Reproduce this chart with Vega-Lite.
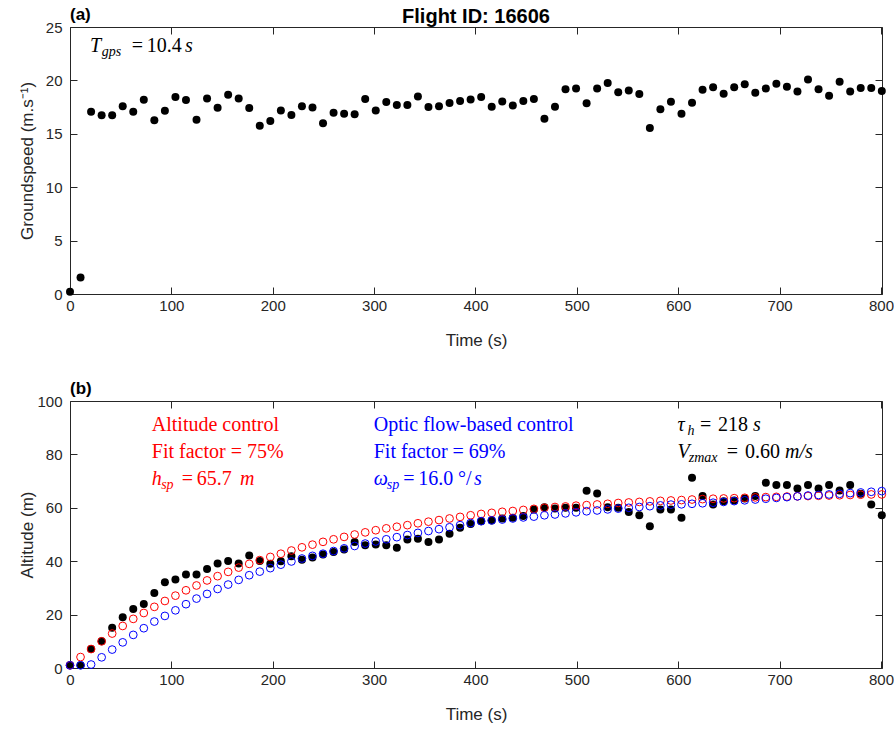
{
  "$schema": "https://vega.github.io/schema/vega-lite/v6.json",
  "padding": {"left": 17, "top": 5, "right": 0, "bottom": 5},
  "background": "#ffffff",
  "config": {
    "font": "Liberation Sans",
    "view": {"stroke": "#262626", "strokeWidth": 1},
    "axis": {
      "domain": false, "grid": false, "labelFlush": false,
      "tickColor": "#262626", "tickSize": -7, "tickWidth": 1,
      "labelColor": "#262626", "labelFontSize": 15, "labelFont": "Liberation Sans",
      "titleColor": "#262626", "titleFontSize": 17, "titleFontWeight": "normal", "titleFont": "Liberation Sans"
    },
    "axisX": {"labelPadding": 11, "titlePadding": 19},
    "axisY": {"labelPadding": 15, "titleX": -34},
    "title": {"font": "Liberation Sans", "fontWeight": "bold", "color": "#000000"}
  },
  "datasets": {
    "speed": [
      {"t":0,"v":0.2},{"t":10.4,"v":1.55},{"t":20.8,"v":17.07},{"t":31.2,"v":16.73},{"t":41.6,"v":16.73},{"t":52,"v":17.57},{"t":62.4,"v":17.07},{"t":72.8,"v":18.19},{"t":83.2,"v":16.26},{"t":93.6,"v":17.16},
      {"t":104,"v":18.44},{"t":114.4,"v":18.16},{"t":124.8,"v":16.32},{"t":135.2,"v":18.31},{"t":145.6,"v":17.44},{"t":156,"v":18.66},{"t":166.4,"v":18.31},{"t":176.8,"v":17.41},{"t":187.2,"v":15.76},{"t":197.6,"v":16.2},
      {"t":208,"v":17.19},{"t":218.4,"v":16.76},{"t":228.8,"v":17.57},{"t":239.2,"v":17.47},{"t":249.6,"v":15.98},{"t":260,"v":16.97},{"t":270.4,"v":16.88},{"t":280.8,"v":16.82},{"t":291.2,"v":18.25},{"t":301.6,"v":17.19},
      {"t":312,"v":17.97},{"t":322.4,"v":17.69},{"t":332.8,"v":17.69},{"t":343.2,"v":18.5},{"t":353.6,"v":17.5},{"t":364,"v":17.57},{"t":374.4,"v":17.88},{"t":384.8,"v":18.07},{"t":395.2,"v":18.22},{"t":405.6,"v":18.44},
      {"t":416,"v":17.54},{"t":426.4,"v":18.03},{"t":436.8,"v":17.66},{"t":447.2,"v":18.07},{"t":457.6,"v":18.25},{"t":468,"v":16.41},{"t":478.4,"v":17.54},{"t":488.8,"v":19.16},{"t":499.2,"v":19.25},{"t":509.6,"v":17.85},
      {"t":520,"v":19.25},{"t":530.4,"v":19.75},{"t":540.8,"v":18.88},{"t":551.2,"v":19.06},{"t":561.6,"v":18.72},{"t":572,"v":15.54},{"t":582.4,"v":17.29},{"t":592.8,"v":18.0},{"t":603.2,"v":16.88},{"t":613.6,"v":17.91},
      {"t":624,"v":19.12},{"t":634.4,"v":19.37},{"t":644.8,"v":18.75},{"t":655.2,"v":19.37},{"t":665.6,"v":19.65},{"t":676,"v":18.84},{"t":686.4,"v":19.25},{"t":696.8,"v":19.69},{"t":707.2,"v":19.4},{"t":717.6,"v":18.97},
      {"t":728,"v":20.09},{"t":738.4,"v":19.16},{"t":748.8,"v":18.56},{"t":759.2,"v":19.87},{"t":769.6,"v":18.97},{"t":780,"v":19.28},{"t":790.4,"v":19.28},{"t":800.8,"v":19.0}
    ],
    "alt": [
      {"t":0,"h":1.0,"ha":1.0,"ho":1.0},{"t":10.4,"h":1.0,"ha":4.1,"ho":1.0},{"t":20.8,"h":7.1,"ha":7.1,"ho":1.3},{"t":31.2,"h":10.0,"ha":10.0,"ho":4.0},{"t":41.6,"h":15.1,"ha":12.9,"ho":6.9},
      {"t":52,"h":19.0,"ha":15.75,"ho":9.6},{"t":62.4,"h":22.1,"ha":18.4,"ho":12.4},{"t":72.8,"h":24.0,"ha":20.6,"ho":14.9},{"t":83.2,"h":28.1,"ha":22.9,"ho":17.4},{"t":93.6,"h":32.1,"ha":25.1,"ho":19.5},
      {"t":104,"h":33.1,"ha":27.1,"ho":21.6},{"t":114.4,"h":35.0,"ha":29.1,"ho":23.9},{"t":124.8,"h":35.0,"ha":30.9,"ho":26.0},{"t":135.2,"h":37.1,"ha":32.8,"ho":27.75},{"t":145.6,"h":39.1,"ha":34.4,"ho":29.6},
      {"t":156,"h":40.1,"ha":36.0,"ho":31.25},{"t":166.4,"h":39.1,"ha":37.6,"ho":33.0},{"t":176.8,"h":42.1,"ha":39.0,"ho":34.75},{"t":187.2,"h":40.1,"ha":40.4,"ho":36.1},{"t":197.6,"h":39.0,"ha":41.6,"ho":37.4},
      {"t":208,"h":40.0,"ha":42.8,"ho":38.7},{"t":218.4,"h":41.9,"ha":44.0,"ho":39.9},{"t":228.8,"h":40.5,"ha":45.2,"ho":41.0},{"t":239.2,"h":41.4,"ha":46.2,"ho":42.0},{"t":249.6,"h":42.5,"ha":47.25,"ho":42.8},
      {"t":260,"h":43.4,"ha":48.2,"ho":43.8},{"t":270.4,"h":44.4,"ha":49.1,"ho":44.8},{"t":280.8,"h":47.2,"ha":50.0,"ho":45.7},{"t":291.2,"h":46.0,"ha":50.8,"ho":46.6},{"t":301.6,"h":46.25,"ha":51.6,"ho":47.4},
      {"t":312,"h":46.0,"ha":52.3,"ho":48.2},{"t":322.4,"h":45.0,"ha":52.9,"ho":49.0},{"t":332.8,"h":48.1,"ha":53.5,"ho":49.8},{"t":343.2,"h":48.4,"ha":54.2,"ho":50.6},{"t":353.6,"h":47.2,"ha":54.8,"ho":51.3},
      {"t":364,"h":48.1,"ha":55.4,"ho":52.0},{"t":374.4,"h":50.25,"ha":56.0,"ho":52.7},{"t":384.8,"h":52.5,"ha":56.6,"ho":53.5},{"t":395.2,"h":53.9,"ha":57.2,"ho":54.3},{"t":405.6,"h":55.0,"ha":57.7,"ho":55.0},
      {"t":416,"h":55.25,"ha":58.1,"ho":55.3},{"t":426.4,"h":56.0,"ha":58.5,"ho":55.6},{"t":436.8,"h":56.25,"ha":58.8,"ho":56.0},{"t":447.2,"h":56.9,"ha":59.2,"ho":56.4},{"t":457.6,"h":59.4,"ha":59.6,"ho":56.7},
      {"t":468,"h":60.25,"ha":60.0,"ho":57.2},{"t":478.4,"h":59.75,"ha":60.3,"ho":57.5},{"t":488.8,"h":60.0,"ha":60.5,"ho":57.9},{"t":499.2,"h":60.0,"ha":60.8,"ho":58.3},{"t":509.6,"h":66.4,"ha":61.0,"ho":58.7},
      {"t":520,"h":65.4,"ha":61.25,"ho":59.0},{"t":530.4,"h":60.25,"ha":61.5,"ho":59.4},{"t":540.8,"h":60.0,"ha":61.8,"ho":59.7},{"t":551.2,"h":58.4,"ha":62.0,"ho":60.0},{"t":561.6,"h":57.25,"ha":62.2,"ho":60.3},
      {"t":572,"h":53.1,"ha":62.4,"ho":60.6},{"t":582.4,"h":59.4,"ha":62.6,"ho":60.9},{"t":592.8,"h":59.4,"ha":62.75,"ho":61.2},{"t":603.2,"h":56.25,"ha":62.9,"ho":61.3},{"t":613.6,"h":71.25,"ha":63.1,"ho":61.5},
      {"t":624,"h":64.4,"ha":63.25,"ho":61.7},{"t":634.4,"h":61.25,"ha":63.4,"ho":61.9},{"t":644.8,"h":62.5,"ha":63.5,"ho":62.2},{"t":655.2,"h":62.75,"ha":63.6,"ho":62.5},{"t":665.6,"h":63.5,"ha":63.75,"ho":62.8},
      {"t":676,"h":64.4,"ha":63.9,"ho":63.1},{"t":686.4,"h":69.4,"ha":64.0,"ho":63.4},{"t":696.8,"h":68.5,"ha":64.1,"ho":63.7},{"t":707.2,"h":68.5,"ha":64.2,"ho":64.0},{"t":717.6,"h":67.25,"ha":64.3,"ho":64.3},
      {"t":728,"h":68.5,"ha":64.4,"ho":64.6},{"t":738.4,"h":67.25,"ha":64.5,"ho":64.8},{"t":748.8,"h":68.5,"ha":64.6,"ho":65.0},{"t":759.2,"h":66.5,"ha":64.7,"ho":65.25},{"t":769.6,"h":68.5,"ha":64.8,"ho":65.5},
      {"t":780,"h":65.25,"ha":64.9,"ho":65.75},{"t":790.4,"h":61.25,"ha":65.0,"ho":66.0},{"t":800.8,"h":57.25,"ha":65.0,"ho":66.25}
    ],
    "notesA": [
      {"t":19.75,"v":22.64,"s":"T","k":"it","g":"info"},
      {"t":31.3,"v":22.3,"s":"gps","k":"sub","g":"info"},
      {"t":60.9,"v":22.64,"s":"=","k":"rm","g":"info"},
      {"t":75.7,"v":22.64,"s":"10.4","k":"rm","g":"info"},
      {"t":113.4,"v":22.64,"s":"s","k":"it","g":"info"}
    ],
    "notesB": [
      {"t":80.7,"v":88.6,"s":"Altitude control","k":"rm","g":"alt"},
      {"t":80.7,"v":78.5,"s":"Fit factor = 75%","k":"rm","g":"alt"},
      {"t":80.7,"v":68.7,"s":"h","k":"it","g":"alt"},
      {"t":89.9,"v":67.2,"s":"sp","k":"sub","g":"alt"},
      {"t":110.2,"v":68.7,"s":"=","k":"rm","g":"alt"},
      {"t":125,"v":68.7,"s":"65.7","k":"rm","g":"alt"},
      {"t":167.7,"v":68.7,"s":"m","k":"it","g":"alt"},
      {"t":299.6,"v":88.6,"s":"Optic flow-based control","k":"rm","g":"of"},
      {"t":299.6,"v":78.5,"s":"Fit factor = 69%","k":"rm","g":"of"},
      {"t":299.6,"v":68.7,"s":"ω","k":"it","g":"of"},
      {"t":312.5,"v":67.2,"s":"sp","k":"sub","g":"of"},
      {"t":328.8,"v":68.7,"s":"=","k":"rm","g":"of"},
      {"t":343.6,"v":68.7,"s":"16.0","k":"rm","g":"of"},
      {"t":382.8,"v":68.7,"s":"°/","k":"rm","g":"of"},
      {"t":398.5,"v":68.7,"s":"s","k":"it","g":"of"},
      {"t":599.2,"v":88.6,"s":"τ","k":"it","g":"info"},
      {"t":609.1,"v":87.1,"s":"h","k":"sub","g":"info"},
      {"t":621.5,"v":88.6,"s":"=","k":"rm","g":"info"},
      {"t":639.3,"v":88.6,"s":"218","k":"rm","g":"info"},
      {"t":673.8,"v":88.6,"s":"s","k":"it","g":"info"},
      {"t":599.2,"v":78.5,"s":"V","k":"it","g":"info"},
      {"t":610.4,"v":77.0,"s":"zmax","k":"sub","g":"info"},
      {"t":647.9,"v":78.5,"s":"=","k":"rm","g":"info"},
      {"t":665.9,"v":78.5,"s":"0.60","k":"rm","g":"info"},
      {"t":705.4,"v":78.5,"s":"m/s","k":"it","g":"info"}
    ]
  },
  "spacing": 30,
  "vconcat": [
    {
      "width": 812, "height": 267,
      "title": {"text": "Flight ID: 16606", "frame": "group", "anchor": "middle", "fontSize": 20, "offset": -21},
      "layer": [
        {
          "data": {"name": "speed"},
          "mark": {"type": "circle", "size": 64, "color": "#000000", "opacity": 1},
          "encoding": {
            "x": {"field": "t", "type": "quantitative", "scale": {"domain": [0, 801], "nice": false, "zero": false},
                  "axis": {"values": [0,100,200,300,400,500,600,700,800], "title": "Time (s)"}},
            "y": {"field": "v", "type": "quantitative", "scale": {"domain": [0, 25], "nice": false},
                  "axis": {"values": [0,5,10,15,20,25], "title": "Groundspeed (m.s⁻¹)"}}
          }
        },
        {
          "data": {"name": "notesA"},
          "transform": [{"filter": "datum.k === 'it'"}],
          "mark": {"type": "text", "font": "Liberation Serif", "fontStyle": "italic", "fontSize": 20, "align": "left", "baseline": "alphabetic", "color": "#000000"},
          "encoding": {"x": {"field": "t", "type": "quantitative", "axis": null}, "y": {"field": "v", "type": "quantitative", "axis": null}, "text": {"field": "s"}}
        },
        {
          "data": {"name": "notesA"},
          "transform": [{"filter": "datum.k === 'sub'"}],
          "mark": {"type": "text", "font": "Liberation Serif", "fontStyle": "italic", "fontSize": 14, "align": "left", "baseline": "alphabetic", "color": "#000000"},
          "encoding": {"x": {"field": "t", "type": "quantitative", "axis": null}, "y": {"field": "v", "type": "quantitative", "axis": null}, "text": {"field": "s"}}
        },
        {
          "data": {"name": "notesA"},
          "transform": [{"filter": "datum.k === 'rm'"}],
          "mark": {"type": "text", "font": "Liberation Serif", "fontSize": 20, "align": "left", "baseline": "alphabetic", "color": "#000000"},
          "encoding": {"x": {"field": "t", "type": "quantitative", "axis": null}, "y": {"field": "v", "type": "quantitative", "axis": null}, "text": {"field": "s"}}
        },
        {
          "data": {"values": [{"lab": "(a)"}]},
          "mark": {"type": "text", "font": "Liberation Sans", "fontWeight": "bold", "fontSize": 17, "align": "left", "baseline": "alphabetic", "dy": -7, "color": "#000000", "clip": false},
          "encoding": {
            "x": {"datum": 0, "type": "quantitative", "axis": {"orient": "top", "labels": false, "title": null, "values": [0,100,200,300,400,500,600,700,800]}},
            "y": {"datum": 25, "type": "quantitative", "axis": {"orient": "right", "labels": false, "title": null, "values": [0,5,10,15,20,25]}},
            "text": {"field": "lab"}
          }
        }
      ],
      "resolve": {"axis": {"x": "independent", "y": "independent"}}
    },
    {
      "width": 812, "height": 267,
      "layer": [
        {
          "data": {"name": "alt"},
          "mark": {"type": "circle", "size": 64, "color": "#000000", "opacity": 1},
          "encoding": {
            "x": {"field": "t", "type": "quantitative", "scale": {"domain": [0, 801], "nice": false, "zero": false},
                  "axis": {"values": [0,100,200,300,400,500,600,700,800], "title": "Time (s)"}},
            "y": {"field": "h", "type": "quantitative", "scale": {"domain": [0, 100], "nice": false},
                  "axis": {"values": [0,20,40,60,80,100], "title": "Altitude (m)"}}
          }
        },
        {
          "data": {"name": "alt"},
          "mark": {"type": "point", "shape": "circle", "size": 60, "filled": false, "stroke": "#ff0000", "strokeWidth": 1, "opacity": 1},
          "encoding": {
            "x": {"field": "t", "type": "quantitative", "axis": null},
            "y": {"field": "ha", "type": "quantitative", "axis": null}
          }
        },
        {
          "data": {"name": "alt"},
          "mark": {"type": "point", "shape": "circle", "size": 60, "filled": false, "stroke": "#0000ff", "strokeWidth": 1, "opacity": 1},
          "encoding": {
            "x": {"field": "t", "type": "quantitative", "axis": {"orient": "top", "labels": false, "title": null, "values": [0,100,200,300,400,500,600,700,800]}},
            "y": {"field": "ho", "type": "quantitative", "axis": {"orient": "right", "labels": false, "title": null, "values": [0,20,40,60,80,100]}}
          }
        },
        {
          "data": {"name": "notesB"},
          "transform": [{"filter": "datum.k === 'it'"}],
          "mark": {"type": "text", "font": "Liberation Serif", "fontStyle": "italic", "fontSize": 20, "align": "left", "baseline": "alphabetic"},
          "encoding": {"x": {"field": "t", "type": "quantitative", "axis": null}, "y": {"field": "v", "type": "quantitative", "axis": null}, "text": {"field": "s"},
                       "color": {"field": "g", "type": "nominal", "scale": {"domain": ["alt", "of", "info"], "range": ["#ff0000", "#0000ff", "#000000"]}, "legend": null}}
        },
        {
          "data": {"name": "notesB"},
          "transform": [{"filter": "datum.k === 'sub'"}],
          "mark": {"type": "text", "font": "Liberation Serif", "fontStyle": "italic", "fontSize": 14, "align": "left", "baseline": "alphabetic"},
          "encoding": {"x": {"field": "t", "type": "quantitative", "axis": null}, "y": {"field": "v", "type": "quantitative", "axis": null}, "text": {"field": "s"},
                       "color": {"field": "g", "type": "nominal", "scale": {"domain": ["alt", "of", "info"], "range": ["#ff0000", "#0000ff", "#000000"]}, "legend": null}}
        },
        {
          "data": {"name": "notesB"},
          "transform": [{"filter": "datum.k === 'rm'"}],
          "mark": {"type": "text", "font": "Liberation Serif", "fontSize": 20, "align": "left", "baseline": "alphabetic"},
          "encoding": {"x": {"field": "t", "type": "quantitative", "axis": null}, "y": {"field": "v", "type": "quantitative", "axis": null}, "text": {"field": "s"},
                       "color": {"field": "g", "type": "nominal", "scale": {"domain": ["alt", "of", "info"], "range": ["#ff0000", "#0000ff", "#000000"]}, "legend": null}}
        },
        {
          "data": {"values": [{"lab": "(b)"}]},
          "mark": {"type": "text", "font": "Liberation Sans", "fontWeight": "bold", "fontSize": 17, "align": "left", "baseline": "alphabetic", "dy": -7, "color": "#000000", "clip": false},
          "encoding": {
            "x": {"datum": 0, "type": "quantitative", "axis": null},
            "y": {"datum": 100, "type": "quantitative", "axis": null},
            "text": {"field": "lab"}
          }
        }
      ],
      "resolve": {"axis": {"x": "independent", "y": "independent"}}
    }
  ]
}
